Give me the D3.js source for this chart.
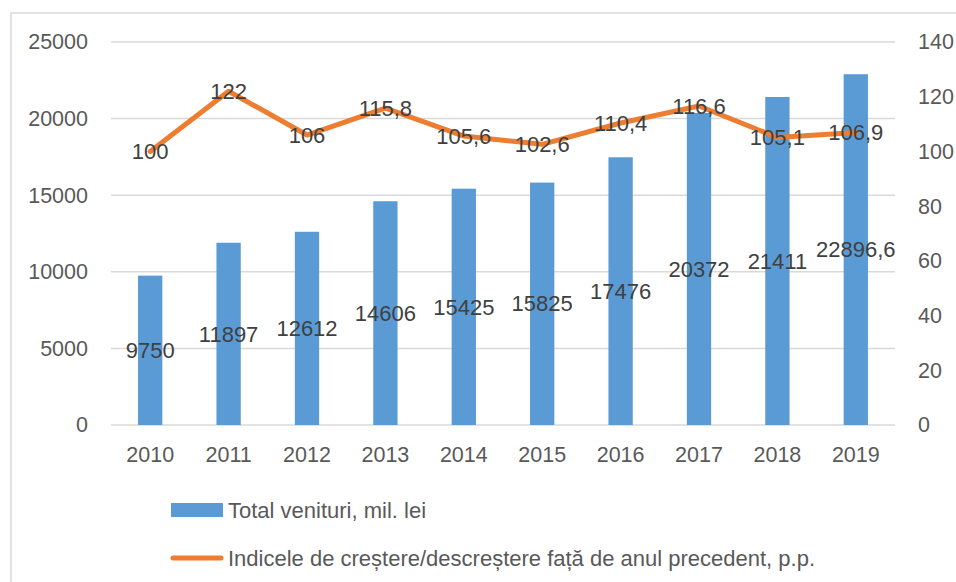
<!DOCTYPE html>
<html>
<head>
<meta charset="utf-8">
<script src="https://cdn.jsdelivr.net/npm/d3@7"></script>
<style>
  body { margin: 0; background: #fff; }
  text { font-family: "Liberation Sans", Arial, sans-serif; }
</style>
</head>
<body>
<div id="chart"></div>
<script>
// data
var years = ['2010', '2011', '2012', '2013', '2014', '2015', '2016', '2017', '2018', '2019'];
var venituri = [9750, 11897, 12612, 14606, 15425, 15825, 17476, 20372, 21411, 22896.6];
var indice = [100, 122, 106, 115.8, 105.6, 102.6, 110.4, 116.6, 105.1, 106.9];
var leftTicks = [0, 5000, 10000, 15000, 20000, 25000];
var rightTicks = [0, 20, 40, 60, 80, 100, 120, 140];
var legendNames = ['Total venituri, mil. lei', 'Indicele de creștere/descreștere față de anul precedent, p.p.'];

var w = 956, h = 582;
var blue = '#5B9BD5', orange = '#ED7D31', grid = '#d9d9d9';

var svg = d3.select('#chart').append('svg')
    .attr('width', w)
    .attr('height', h);

// outer frame
svg.append('rect')
    .attr('x', 11).attr('y', 13)
    .attr('width', 1000).attr('height', 700)
    .attr('fill', 'none')
    .attr('stroke', grid)
    .attr('stroke-width', 1.5);

var x = d3.scaleBand()
    .domain(years)
    .range([111, 895])
    .paddingInner(0.69)
    .paddingOuter(0.345);

var yL = d3.scaleLinear().domain([0, 25000]).range([425, 42]);
var yR = d3.scaleLinear().domain([0, 140]).range([425, 42]);

// gridlines
svg.append('g').selectAll('line')
    .data(leftTicks)
    .enter().append('line')
    .attr('x1', 111).attr('x2', 895)
    .attr('y1', function(d){ return yL(d); })
    .attr('y2', function(d){ return yL(d); })
    .attr('stroke', grid)
    .attr('stroke-width', 1.5);

// axes (text only, like the reference)
var axL = svg.append('g')
    .attr('transform', 'translate(100,0)')
    .call(d3.axisLeft(yL).tickValues(leftTicks).tickSize(0).tickPadding(12).tickFormat(d3.format('d')));
var axR = svg.append('g')
    .attr('transform', 'translate(906,0)')
    .call(d3.axisRight(yR).tickValues(rightTicks).tickSize(0).tickPadding(12).tickFormat(d3.format('d')));
var axX = svg.append('g')
    .attr('transform', 'translate(0,425)')
    .call(d3.axisBottom(x).tickSize(0).tickPadding(22));

[axL, axR, axX].forEach(function(a){
    a.select('.domain').remove();
    a.selectAll('text')
        .attr('fill', '#595959')
        .style('font-size', '21.5px');
});

// bars
svg.append('g').selectAll('rect')
    .data(venituri)
    .enter().append('rect')
    .attr('x', function(d, i){ return x(years[i]); })
    .attr('y', function(d){ return yL(d); })
    .attr('width', x.bandwidth())
    .attr('height', function(d){ return yL(0) - yL(d); })
    .attr('fill', blue);

// line
var line = d3.line()
    .x(function(d, i){ return x(years[i]) + x.bandwidth() / 2; })
    .y(function(d){ return yR(d); });

svg.append('path')
    .datum(indice)
    .attr('d', line)
    .attr('fill', 'none')
    .attr('stroke', orange)
    .attr('stroke-width', 5)
    .attr('stroke-linejoin', 'round')
    .attr('stroke-linecap', 'round');

function fmt(v){ return String(v).replace('.', ','); }

// bar labels, centred in the bar
svg.append('g').selectAll('text')
    .data(venituri)
    .enter().append('text')
    .attr('x', function(d, i){ return x(years[i]) + x.bandwidth() / 2; })
    .attr('y', function(d){ return (yL(d) + yL(0)) / 2; })
    .attr('dy', '0.35em')
    .attr('text-anchor', 'middle')
    .attr('fill', '#404040')
    .style('font-size', '22px')
    .text(fmt);

// line labels, centred on the point
svg.append('g').selectAll('text')
    .data(indice)
    .enter().append('text')
    .attr('x', function(d, i){ return x(years[i]) + x.bandwidth() / 2; })
    .attr('y', function(d){ return yR(d); })
    .attr('dy', '0.35em')
    .attr('text-anchor', 'middle')
    .attr('fill', '#404040')
    .style('font-size', '22px')
    .text(fmt);

// legend
var lg = svg.append('g');
lg.append('rect')
    .attr('x', 171).attr('y', 503)
    .attr('width', 52).attr('height', 14)
    .attr('fill', blue);
lg.append('line')
    .attr('x1', 173).attr('x2', 221)
    .attr('y1', 558).attr('y2', 558)
    .attr('stroke', orange)
    .attr('stroke-width', 5)
    .attr('stroke-linecap', 'round');
lg.selectAll('text')
    .data(legendNames)
    .enter().append('text')
    .attr('x', 228)
    .attr('y', function(d, i){ return 510 + i * 48; })
    .attr('dy', '0.35em')
    .attr('fill', '#595959')
    .style('font-size', '22px')
    .text(function(d){ return d; });
</script>
</body>
</html>
